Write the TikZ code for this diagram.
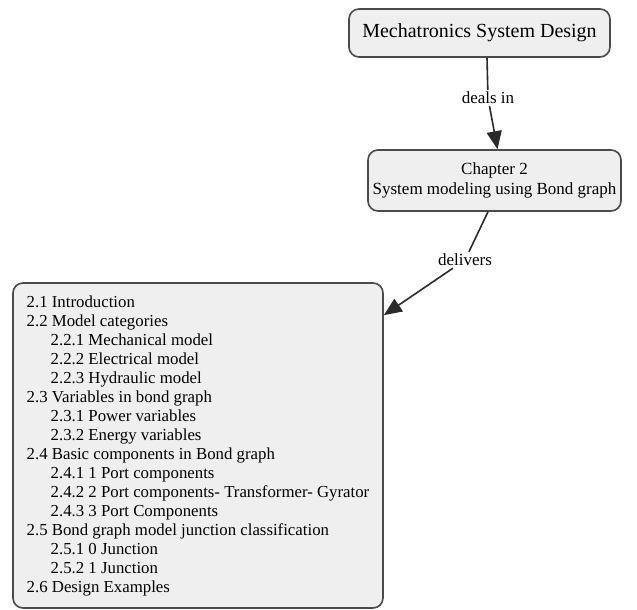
\documentclass[tikz,border=0pt]{standalone}
\usepackage{fontspec}
\setmainfont{Liberation Serif}
\usetikzlibrary{arrows.meta}
\definecolor{boxfill}{HTML}{EFEFEF}
\definecolor{boxline}{HTML}{4A4A4A}
\definecolor{edgeline}{HTML}{2A2A2A}
\tikzset{
  topic/.style={draw=boxline, fill=boxfill, line width=1.6pt, rounded corners=10pt, inner sep=0pt, align=center},
  lbl/.style={inner sep=2pt, font=\fontsize{17}{19}\selectfont},
  conn/.style={draw=edgeline, line width=1.6pt},
  arr/.style={conn, -{Triangle[length=18pt,width=15pt]}}
}
\newcommand{\sub}{\hspace*{24pt}}
\begin{document}
\begin{tikzpicture}[x=1pt,y=1pt]
\useasboundingbox (0,0) rectangle (637,610);
\node[topic, minimum width=261pt, minimum height=48pt, font=\fontsize{20}{22}\selectfont] (top) at (479.5,577) {\raisebox{-2pt}{Mechatronics System Design}};
\node[topic, minimum width=253pt, minimum height=61pt, font=\fontsize{17}{20}\selectfont] (ch) at (494.5,429.5) {\raisebox{-2pt}{Chapter 2}\\\raisebox{-2pt}{System modeling using Bond graph}};
\node[topic, minimum width=370pt, minimum height=325pt, align=left, font=\fontsize{16.8}{19}\selectfont] (list) at (198,164.5) {2.1 Introduction\\
2.2 Model categories\\
\sub 2.2.1 Mechanical model\\
\sub 2.2.2 Electrical model\\
\sub 2.2.3 Hydraulic model\\
2.3 Variables in bond graph\\
\sub 2.3.1 Power variables\\
\sub 2.3.2 Energy variables\\
2.4 Basic components in Bond graph\\
\sub 2.4.1 1 Port components\\
\sub 2.4.2 2 Port components- Transformer- Gyrator\\
\sub 2.4.3 3 Port Components\\
2.5 Bond graph model junction classification\\
\sub 2.5.1 0 Junction\\
\sub 2.5.2 1 Junction\\
2.6 Design Examples};
\node[lbl] (l1) at (488,512) {deals in};
\node[lbl] (l2) at (465,350) {delivers};
\draw[conn] ([xshift=7.5pt]top.south) -- (l1);
\draw[arr] (l1) -- ([xshift=3pt]ch.north);
\draw[conn] ([xshift=-6.5pt]ch.south) -- (l2);
\draw[arr] (l2) -- ([yshift=-33pt]list.north east);
\end{tikzpicture}
\end{document}
